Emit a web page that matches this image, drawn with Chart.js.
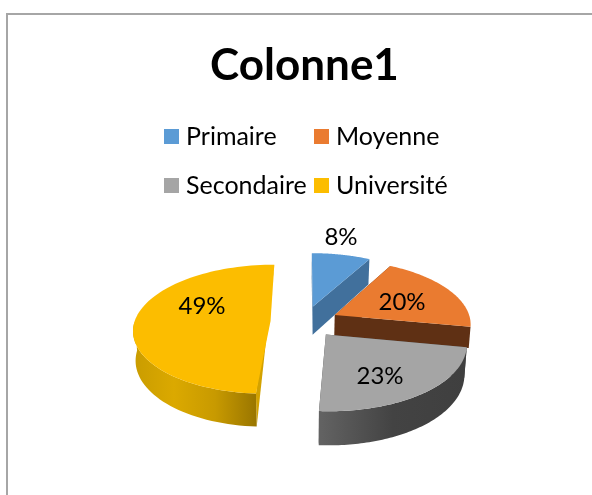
<!DOCTYPE html>
<html><head><meta charset="utf-8">
<style>html,body{margin:0;padding:0;background:#fff;overflow:hidden}canvas{display:block}</style>
<script src="https://cdn.jsdelivr.net/npm/chart.js@4"></script>
</head><body>
<canvas id="c" width="592" height="495"></canvas>
<script>
const categories = ['Primaire', 'Moyenne', 'Secondaire', 'Université'];
const values = [8, 20, 23, 49];
const topColors = ['#5b9bd5', '#ea7b30', '#a5a5a5', '#fcbd00'];
const sideColors = ['#41709c', '#5f3014', '#4a4a4a', '#d3a200'];
const rimStops = [
  null,
  null,
  ['#636363', '#434343', '#3f3f3f'],
  ['#c99c00', '#dba900', '#c89a00', '#9a7600']
];
const endWallDepth = [1, 0.72, 1, 1];
const labelSpots = [[341, 237], [402, 302], [380, 376], [202, 306]];
const FONT = 'Lato, Carlito, "Open Sans", sans-serif';

const cx = 304.5, cy = 321.6, R = 136, K = 0.468, P = 0.125, EXPLODE = 34, DEPTH = 29, SHRINK = 0.985;

function project(X, Y, low) {
  const s = 1 / (1 - P * Y / R);
  let x = X * s, y = Y * K * s;
  if (low) { x *= SHRINK; y += DEPTH * s; }
  return [cx + x, cy + y];
}
function path(ctx, pts) {
  ctx.beginPath();
  pts.forEach((p, i) => i ? ctx.lineTo(p[0], p[1]) : ctx.moveTo(p[0], p[1]));
  ctx.closePath();
}
function rimPoints(arc, ox, oy, low) {
  const n = 80, out = [];
  for (let i = 0; i <= n; i++) {
    const a = arc.startAngle + (arc.endAngle - arc.startAngle) * i / n;
    out.push(project(ox + R * Math.cos(a), oy + R * Math.sin(a), low));
  }
  return out;
}
function nearOnly(arc, pts) {
  const n = pts.length - 1;
  return pts.filter((p, i) => Math.sin(arc.startAngle + (arc.endAngle - arc.startAngle) * i / n) >= -0.02);
}
const pie3d = {
  id: 'pie3d',
  beforeDatasetDraw(chart, args) {
    const ctx = chart.ctx, arcs = chart.getDatasetMeta(args.index).data;
    ctx.save();
    arcs.forEach((arc, i) => {
      const mid = (arc.startAngle + arc.endAngle) / 2;
      const ox = EXPLODE * Math.cos(mid), oy = EXPLODE * Math.sin(mid);
      const top = rimPoints(arc, ox, oy, false), low = rimPoints(arc, ox, oy, true);
      const tipT = project(ox, oy, false), tipL = project(ox, oy, true);
      const topEnd = top[top.length - 1], lowEnd = low[low.length - 1];
      // straight walls
      ctx.fillStyle = sideColors[i];
      if (arc.endAngle - arc.startAngle > 3) {
        // a nearly half slice shows one sliver, from its far corner to its near foot
        path(ctx, [topEnd, top[0], low[0]]); ctx.fill();
      } else {
        path(ctx, [tipT, top[0], low[0], tipL]); ctx.fill();
        const d = endWallDepth[i];
        path(ctx, [tipT, topEnd, [topEnd[0] + (lowEnd[0] - topEnd[0]) * d, topEnd[1] + (lowEnd[1] - topEnd[1]) * d], tipL]); ctx.fill();
      }
      // outer rim, near side only
      const stops = rimStops[i];
      if (stops) {
        const nt = nearOnly(arc, top), nl = nearOnly(arc, low);
        const xs = nt.map(p => p[0]);
        const g = ctx.createLinearGradient(Math.min(...xs), 0, Math.max(...xs), 0);
        stops.forEach((c, k) => g.addColorStop(k / (stops.length - 1), c));
        ctx.fillStyle = g;
        path(ctx, nt.concat(nl.slice().reverse())); ctx.fill();
      }
      // top face
      ctx.fillStyle = topColors[i];
      path(ctx, [tipT].concat(top)); ctx.fill();
    });
    ctx.restore();
    return false;
  },
  afterDraw(chart) {
    const ctx = chart.ctx, total = values.reduce((a, b) => a + b, 0);
    ctx.save();
    // frame: runs off the right and bottom of the picture
    ctx.strokeStyle = '#a6a6a6'; ctx.lineWidth = 2;
    ctx.beginPath(); ctx.moveTo(7, 495); ctx.lineTo(7, 14); ctx.lineTo(592, 14); ctx.stroke();
    // data labels
    ctx.fillStyle = '#000'; ctx.textAlign = 'center'; ctx.textBaseline = 'middle';
    ctx.font = '24px ' + FONT;
    values.forEach((v, i) => ctx.fillText(Math.round(v / total * 100) + '%', labelSpots[i][0], labelSpots[i][1]));
    // legend
    ctx.textAlign = 'left';
    ctx.font = '25px ' + FONT;
    const cols = [164, 314], rows = [129, 178];
    categories.forEach((name, i) => {
      const x = cols[i % 2], y = rows[i >> 1];
      ctx.fillStyle = topColors[i]; ctx.fillRect(x, y, 15, 15);
      ctx.fillStyle = '#000'; ctx.fillText(name, x + 22, y + 8);
    });
    ctx.restore();
  }
};
new Chart(document.getElementById('c'), {
  type: 'pie',
  data: { labels: categories, datasets: [{ data: values, backgroundColor: topColors }] },
  plugins: [pie3d],
  options: {
    responsive: false, animation: false,
    layout: { padding: { top: 39, left: 17 } },
    plugins: {
      legend: { display: false },
      tooltip: { enabled: false },
      title: { display: true, text: 'Colonne1', color: '#000', padding: 0,
               font: { family: FONT, size: 44, weight: 'bold' } }
    }
  }
});
</script>
</body></html>
